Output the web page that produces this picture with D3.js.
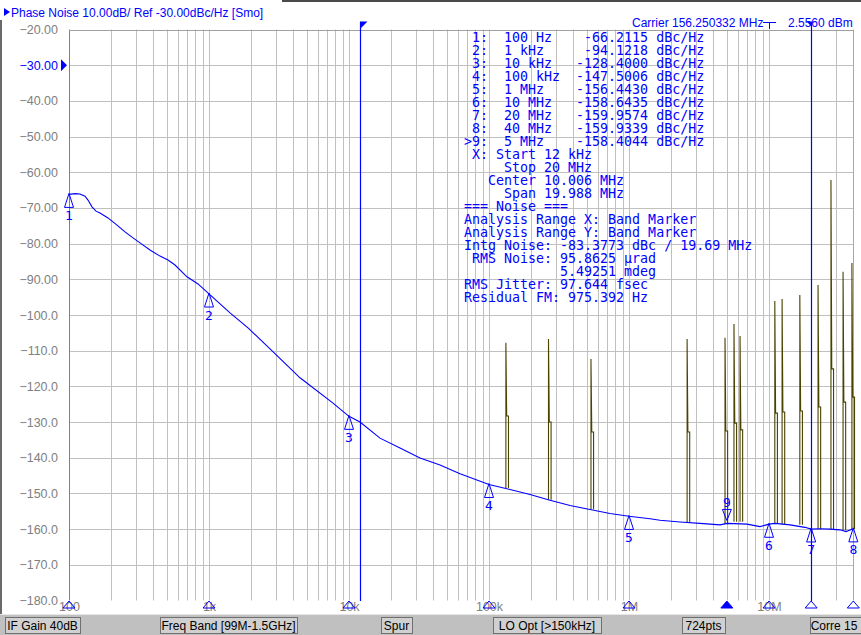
<!DOCTYPE html>
<html><head><meta charset="utf-8">
<script src="https://cdn.jsdelivr.net/npm/d3@7"></script>
<style>
html,body{margin:0;padding:0;background:#fff;}
svg{display:block;}
text{white-space:pre;}
</style></head><body>
<svg id="chart" width="861" height="635"></svg>
<script>
// ---------- data ----------
const noiseFreq = [100,110.4,119.8,130.1,136.7,146,155.9,166.5,189.9,220.2,251.2,286.5,321.6,378.9,446.7,509.5,571.7,696.6,834.6,1000,1413,1899,2728,4467,7686,10000,11983,16650,23140,32150,44670,62080,100000,141250,196300,272800,378900,526600,731600,1e6,1.413e6,1.665e6,2.314e6,3.215e6,4.467e6,5e6,6.966e6,8.63e6,1e7,1.104e7,1.413e7,1.807e7,2e7,2.312e7,2.728e7,3.214e7,3.548e7,4e7];
const noiseDbc = [-66.2,-66.0,-66.1,-66.7,-67.8,-69.7,-70.9,-71.4,-72.8,-74.8,-76.7,-78.4,-79.8,-81.8,-83.5,-84.6,-86.0,-89.3,-91.3,-94.1,-99.4,-103.6,-109.5,-117.6,-124.7,-128.4,-130.0,-134.5,-137.3,-140.1,-142.0,-144.5,-147.5,-148.9,-150.3,-151.9,-153.4,-154.5,-155.6,-156.4,-157.1,-157.5,-158.0,-158.4,-158.8,-158.4,-158.6,-159.3,-158.6,-158.4,-158.8,-159.5,-160.0,-159.9,-160.0,-160.2,-160.7,-159.9];

const spurFreq     = [132e3,266e3,535e3,2.6e6,4.85e6,5.62e6,6.21e6,11.0e6,12.4e6,16.6e6,22.4e6,27.7e6,33.8e6,39.1e6];
const spurPeak     = [-107.8,-106.7,-112.3,-106.7,-106.4,-102.5,-105.9,-96.1,-95.5,-94.4,-91.6,-62.2,-87.9,-85.4];
const spurShoulder = [-128.3,-130.0,-132.8,-132.8,-132.5,-130.3,-132.2,-127.5,-127.2,-126.9,-125.8,-115.1,-124.4,-123.0];
const spurFloor    = [-148.5,-151.8,-154.4,-158.2,-158.6,-157.9,-157.9,-158.3,-158.6,-158.8,-159.9,-160.0,-160.4,-160.0];

const markerId    = ["1","2","3","4","5","6","7","8","9"];
const markerFreq  = [100,1e3,1e4,1e5,1e6,1e7,2e7,4e7,5e6];
const markerLabel = ["100 Hz","1 kHz","10 kHz","100 kHz","1 MHz","10 MHz","20 MHz","40 MHz","5 MHz"];
const markerDbc   = [-66.2115,-94.1218,-128.4000,-147.5006,-156.4430,-158.6435,-159.9574,-159.9339,-158.4044];
const activeMarker = 8;

const bandStart = 12e3, bandStop = 2e7;
const infoLines = [
  " X: Start 12 kHz",
  "     Stop 20 MHz",
  "   Center 10.006 MHz",
  "     Span 19.988 MHz",
  "=== Noise ===",
  "Analysis Range X: Band Marker",
  "Analysis Range Y: Band Marker",
  "Intg Noise: -83.3773 dBc / 19.69 MHz",
  " RMS Noise: 95.8625 \u00b5rad",
  "            5.49251 mdeg",
  "RMS Jitter: 97.644 fsec",
  "Residual FM: 975.392 Hz"
];

const yTicks = [-20,-30,-40,-50,-60,-70,-80,-90,-100,-110,-120,-130,-140,-150,-160,-170,-180];
const xTickValues = [100,1e3,1e4,1e5,1e6,1e7];
const xTickLabels = ["100","1k","10k","100k","1M","10M"];

const titleText = "Phase Noise 10.00dB/ Ref -30.00dBc/Hz [Smo]";
const carrierText = "Carrier 156.250332 MHz";
const powerText = "2.5560 dBm";
const statusLabels = ["IF Gain 40dB","Freq Band [99M-1.5GHz]","Spur","LO Opt [>150kHz]","724pts","Corre 15"];
const statusX0 = [5,160,381,493,682,810];
const statusX1 = [80,297,412,601,725,868];

// ---------- drawing ----------
const W = 861, H = 635;
const BLUE = "#0000ff", OLIVE = "#4a4300", GRID = "#c0c0c0", LABEL = "#808080";
const SANS = '"Liberation Sans", Arial, sans-serif';
const MONO = '"DejaVu Sans Mono", monospace';
const svg = d3.select("#chart");

const x = d3.scaleLog().domain([100, 4e7]).range([69, 853.3]);
const y = d3.scaleLinear().domain([-20, -180]).range([29.5, 600.5]);
const px = v => Math.round(x(v)) + 0.5;
const py = v => Math.round(y(v)) + 0.5;

svg.append("rect").attr("width", W).attr("height", H).attr("fill", "#fff");

// window frame
svg.append("rect").attr("x", 0).attr("y", 20).attr("width", 2).attr("height", 594).attr("fill", "#6a6a6a");
svg.append("rect").attr("x", 282).attr("y", 0).attr("width", W - 282).attr("height", 2).attr("fill", "#4a4a4a");

// title
svg.append("path").attr("d", "M4,8 L10,12 L4,16 Z").attr("fill", BLUE);
svg.append("text").attr("x", 11).attr("y", 17).attr("font-family", SANS).attr("font-size", 12)
  .attr("fill", BLUE).text(titleText);

// grid
const grid = svg.append("g");
grid.selectAll("line.v").data(x.ticks().filter(d => d > 100 && d < 4e7)).join("line")
  .attr("x1", d => px(d)).attr("x2", d => px(d))
  .attr("y1", y(-20)).attr("y2", y(-180))
  .attr("stroke", GRID).attr("stroke-width", 1);
grid.selectAll("line.h").data(yTicks.filter(d => d < -20 && d > -180)).join("line")
  .attr("x1", x(100)).attr("x2", x(4e7))
  .attr("y1", d => py(d)).attr("y2", d => py(d))
  .attr("stroke", GRID).attr("stroke-width", 1);
// frame lines
grid.append("line").attr("x1", px(100)).attr("x2", px(100)).attr("y1", y(-20)).attr("y2", y(-180))
  .attr("stroke", "#808080");
grid.append("line").attr("x1", px(4e7)).attr("x2", px(4e7)).attr("y1", y(-20)).attr("y2", y(-180))
  .attr("stroke", "#a8a8a8");
grid.append("line").attr("x1", x(100)).attr("x2", x(4e7)).attr("y1", py(-20)).attr("y2", py(-20))
  .attr("stroke", "#a0a0a0");

// y axis labels
const yAxis = d3.axisLeft(y).tickValues(yTicks).tickSize(0).tickPadding(0)
  .tickFormat(d => Math.abs(d) >= 100 ? d3.format(".1f")(d) : d3.format(".2f")(d));
const ya = svg.append("g").attr("transform", "translate(58,0)").call(yAxis);
ya.select(".domain").remove();
ya.selectAll("text").attr("font-family", SANS).attr("font-size", 12.5)
  .attr("fill", d => d === -30 ? BLUE : LABEL);
// reference level arrow
svg.append("path").attr("d", `M61,${y(-30) - 6} L67,${y(-30)} L61,${y(-30) + 6} Z`).attr("fill", BLUE);

// x axis labels
const xAxis = d3.axisBottom(x).tickValues(xTickValues).tickSize(0).tickPadding(2.5)
  .tickFormat((d, i) => xTickLabels[i]);
const xa = svg.append("g").attr("transform", "translate(0,600)").call(xAxis);
xa.select(".domain").remove();
xa.selectAll("text").attr("font-family", SANS).attr("font-size", 12.5).attr("fill", LABEL);

// spurs
const spurG = svg.append("g");
spurFreq.forEach((f, i) => {
  const x0 = x(f);
  const p = d3.path();
  p.moveTo(x0, y(spurFloor[i]));
  p.lineTo(x0, y(spurPeak[i]));
  p.lineTo(x0 + 0.8, y(spurShoulder[i]));
  p.lineTo(x0 + 2.6, y(spurShoulder[i]));
  p.lineTo(x0 + 2.6, y(spurFloor[i]));
  spurG.append("path").attr("d", p.toString()).attr("fill", "none")
    .attr("stroke", OLIVE).attr("stroke-width", 1.1);
});

// noise trace
const trace = noiseFreq.map((f, i) => [f, noiseDbc[i]]);
svg.append("path").datum(trace)
  .attr("d", d3.line().x(d => x(d[0])).y(d => y(d[1])))
  .attr("fill", "none").attr("stroke", BLUE).attr("stroke-width", 1.1);

// band marker lines
[bandStart, bandStop].forEach((f, i) => {
  const xx = px(f);
  svg.append("line").attr("x1", xx).attr("x2", xx).attr("y1", 22).attr("y2", 601)
    .attr("stroke", BLUE).attr("stroke-width", 1.2);
  const d = i === 0 ? `M${xx - 0.5},21.5 L${xx + 7},21.5 L${xx - 0.5},29 Z`
                    : `M${xx + 0.5},21.5 L${xx - 5},21.5 L${xx + 0.5},27 Z`;
  svg.append("path").attr("d", d).attr("fill", BLUE);
});

// carrier / power header
svg.append("text").attr("x", 632).attr("y", 27).attr("font-family", SANS).attr("font-size", 12)
  .attr("fill", BLUE).text(carrierText);
svg.append("text").attr("x", 788).attr("y", 27).attr("font-family", SANS).attr("font-size", 12)
  .attr("fill", BLUE).text(powerText);
svg.append("path").attr("d", `M763,22.5 H776 M${px(1e7)},22.5 V29`).attr("stroke", BLUE).attr("fill", "none");

// markers on trace
const mk = svg.append("g");
markerFreq.forEach((f, i) => {
  const cx = x(f), cy = y(markerDbc[i]);
  if (i === activeMarker) {
    const ap = cy - 3, top = ap - 11;
    mk.append("path").attr("d", `M${cx - 4.5},${top} L${cx + 4.5},${top} L${cx},${ap} Z`)
      .attr("fill", "none").attr("stroke", BLUE);
    mk.append("text").attr("x", cx).attr("y", top - 2).attr("text-anchor", "middle")
      .attr("font-family", MONO).attr("font-size", 13).attr("fill", BLUE).text(markerId[i]);
  } else {
    const ap = cy - 1;
    mk.append("path").attr("d", `M${cx},${ap} L${cx + 4.5},${ap + 14} L${cx - 4.5},${ap + 14} Z`)
      .attr("fill", "none").attr("stroke", BLUE);
    mk.append("text").attr("x", cx).attr("y", ap + 26.5).attr("text-anchor", "middle")
      .attr("font-family", MONO).attr("font-size", 13).attr("fill", BLUE).text(markerId[i]);
  }
  // marker position on x axis
  mk.append("path").attr("d", `M${cx},601 L${cx + 6},608 L${cx - 6},608 Z`)
    .attr("fill", i === activeMarker ? BLUE : "#fff").attr("fill-opacity", i === activeMarker ? 1 : 0)
    .attr("stroke", BLUE);
});

// marker table
const tableLines = markerFreq.map((f, i) =>
  (i === activeMarker ? ">" : " ") + markerId[i] + ":  " + markerLabel[i].padEnd(9) +
  markerDbc[i].toFixed(4).padStart(9) + " dBc/Hz");
const allLines = tableLines.concat(infoLines);
svg.append("g").selectAll("text").data(allLines).join("text")
  .attr("x", 464).attr("y", (d, i) => 42 + 13 * i)
  .attr("font-family", MONO).attr("font-size", 13.3).attr("fill", BLUE)
  .text(d => d);

// status bar
svg.append("rect").attr("x", 0).attr("y", 614).attr("width", W).attr("height", 21).attr("fill", "#c0c0c0");
svg.append("line").attr("x1", 0).attr("x2", W).attr("y1", 614.5).attr("y2", 614.5).attr("stroke", "#e6e6e6");
statusLabels.forEach((s, i) => {
  svg.append("rect").attr("x", statusX0[i] + 0.5).attr("y", 617.5)
    .attr("width", statusX1[i] - statusX0[i]).attr("height", 16)
    .attr("fill", "#d0d0d0").attr("stroke", "#707070");
  svg.append("text").attr("x", (statusX0[i] + Math.min(statusX1[i], 862)) / 2 + (i === 5 ? -2 : 0)).attr("y", 630)
    .attr("text-anchor", "middle").attr("font-family", SANS).attr("font-size", 12)
    .attr("fill", "#000").text(s);
});
</script>
</body></html>
